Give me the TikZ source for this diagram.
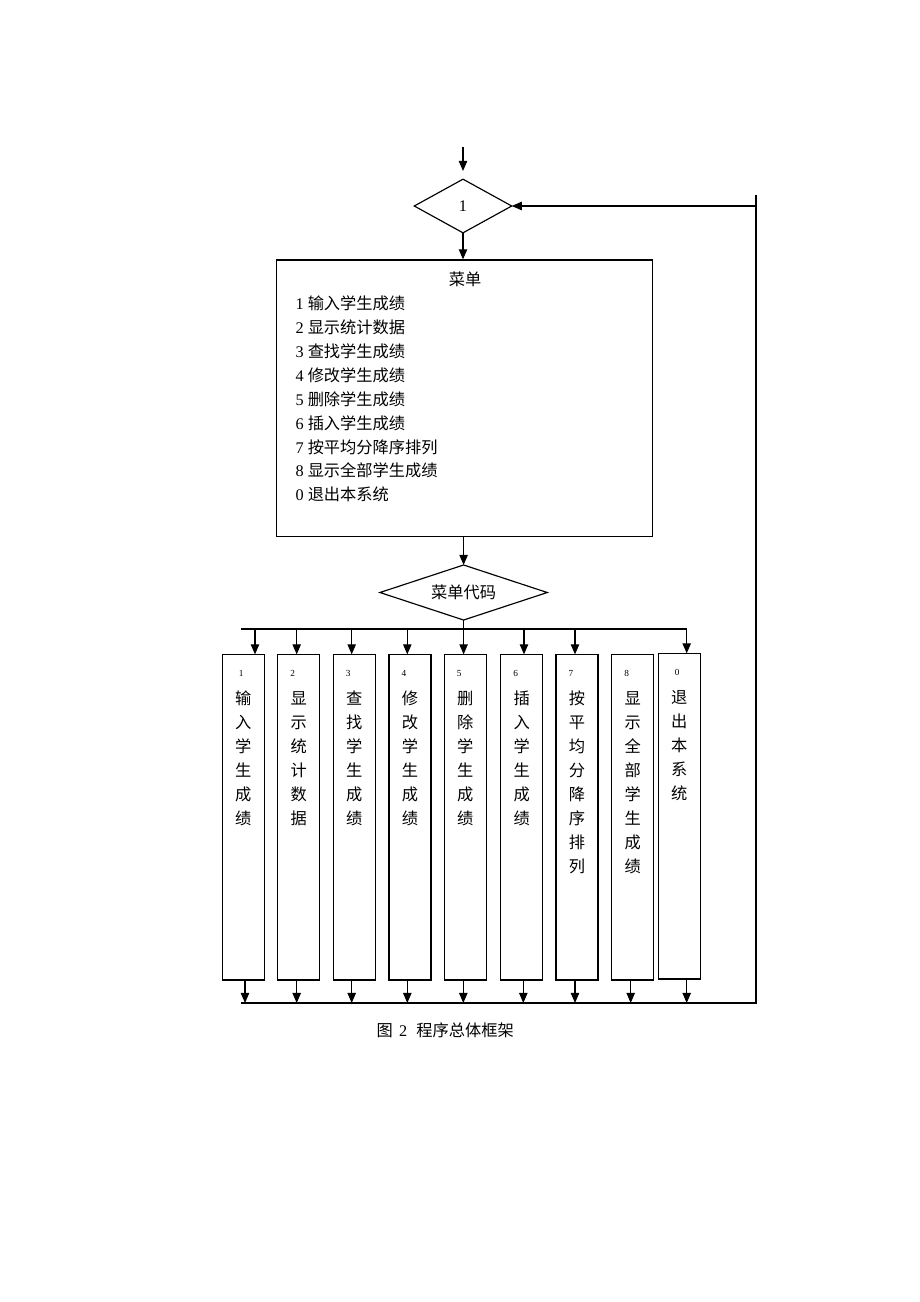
\documentclass[tikz,border=0pt]{standalone}
\usepackage{fontspec}
\setmainfont{Liberation Serif}
\newfontfamily\zh{Noto Sans CJK SC}
\usetikzlibrary{shapes.geometric,arrows.meta}

\begin{document}
\begin{tikzpicture}[x=0.6467pt,y=-0.6467pt,line width=0.75pt,
  arr/.style={-{Triangle[length=6.5pt,width=5.4pt]}},
  decision/.style={draw,diamond,inner sep=0pt,outer sep=0pt,font=\fontsize{10.5}{12}\selectfont},
  colbox/.style={draw,line width=0.8pt,minimum width=27.2pt,minimum height=210.6pt,inner sep=0pt,outer sep=0pt},
  cjkchar/.style={inner sep=0pt,font=\zh\fontsize{10.5}{12}\selectfont},
  num/.style={inner sep=0pt,font=\fontsize{6}{7}\selectfont}]
\useasboundingbox (0,0) rectangle (920,1302);

% entry and first test
\coordinate (in0) at (463,147);
\coordinate (in1) at (463,171);
\draw[arr] (in0) -- (in1);
\node[decision,aspect=1.8,minimum width=63pt,minimum height=34.7pt] (d1) at (463,206) {1};

% menu
\node[draw,line width=0.8pt,minimum width=243.2pt,minimum height=178.9pt,inner sep=0pt] (menu) at (464.7,398.3) {};
\node[cjkchar] (title) at (465,279) {菜单};
\node[anchor=west,align=left,inner sep=0pt,font=\fontsize{10.5}{15.46}\selectfont] (items) at (295,399)
  {1 {\zh 输入学生成绩}\\2 {\zh 显示统计数据}\\3 {\zh 查找学生成绩}\\4 {\zh 修改学生成绩}\\5 {\zh 删除学生成绩}\\
   6 {\zh 插入学生成绩}\\7 {\zh 按平均分降序排列}\\8 {\zh 显示全部学生成绩}\\0 {\zh 退出本系统}};
\draw[arr] (d1.south) -- (d1.south |- menu.north);

\node[decision,aspect=3.04,minimum width=108.2pt,minimum height=35.6pt,font=\zh\fontsize{10.5}{12}\selectfont] (d2) at (463.6,592.5) {菜单代码};
\draw[arr] (menu.south -| d2.north) -- (d2.north);

% one column per menu code
\foreach \n/\cx/\cy/\nx/\ba/\txt in {
  1/243.3/817.2/19/245/{输,入,学,生,成,绩},
  2/298.7/817.2/15/296.7/{显,示,统,计,数,据},
  3/354.3/817.2/15/351.7/{查,找,学,生,成,绩},
  4/410/817.2/15/407.3/{修,改,学,生,成,绩},
  5/465.3/817.2/15/463.3/{删,除,学,生,成,绩},
  6/521.7/817.2/15/523.3/{插,入,学,生,成,绩},
  7/577/817.2/15/575/{按,平,均,分,降,序,排,列},
  8/632.7/817.2/15/630.7/{显,示,全,部,学,生,成,绩},
  0/679.3/816.2/19/686.7/{退,出,本,系,统}}{
  \node[colbox] (b\n) at (\cx,\cy) {};
  \node[num] at (\cx-21+\nx,\cy-144.2) {\n};
  \foreach \c [count=\i] in \txt
    \node[cjkchar] at (\cx,\cy-142.7+24*\i) {\c};
}

% branches
\coordinate (bus0) at (241,629);
\coordinate (bus1) at (686.7,629);
\draw[arr] (bus0) -- (bus1) -- (bus1 |- b0.north);
\foreach \n/\ta in {1/255,2/296.7,3/351.7,4/407.3,6/524,7/575}
  \draw[arr] (\ta,0 |- bus0) -- (\ta,0 |- b\n.north);
\draw[arr] (d2.south) -- (d2.south |- b5.north);

% back to the top
\coordinate (bl) at (241,1003);
\coordinate (rt) at (756,195);
\foreach \n/\ba in {1/245,2/296.7,3/351.7,4/407.3,5/463.3,6/523.3,7/575,8/630.7,0/686.7}
  \draw[arr] (\ba,0 |- b\n.south) -- (\ba,0 |- bl);
\draw (bl) -- (bl -| rt) -- (rt);
\draw[arr] (d1.east -| rt) -- (d1.east);

\node[anchor=west,inner sep=0pt,font=\fontsize{10.5}{12}\selectfont] (cap) at (376,1030)
  {{\zh 图}\hspace{4pt}2\hspace{6pt}{\zh 程序总体框架}};
\end{tikzpicture}
\end{document}
